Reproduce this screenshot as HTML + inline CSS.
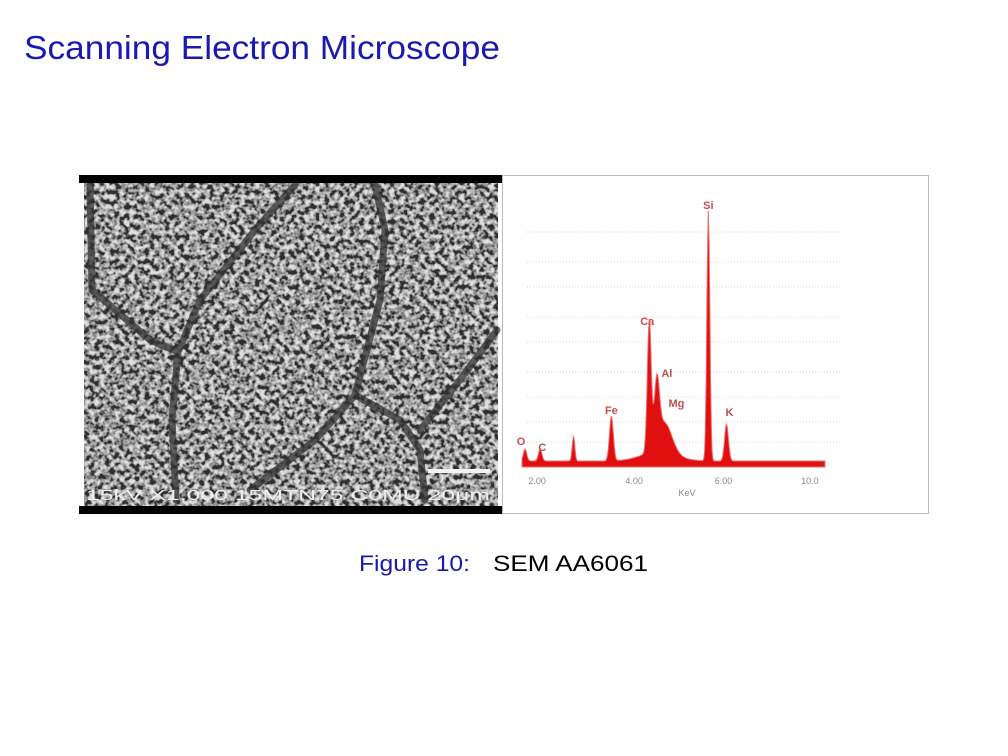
<!DOCTYPE html>
<html><head><meta charset="utf-8">
<style>
html,body{margin:0;padding:0;background:#fff;}
#page{position:relative;width:1008px;height:756px;overflow:hidden;font-family:"Liberation Sans",sans-serif;}
svg{position:absolute;left:0;top:0;}
</style></head>
<body>
<div id="page">
<svg width="1008" height="756" viewBox="0 0 1008 756">
  <defs>
    <filter id="semTex" x="0" y="0" width="100%" height="100%">
      <feTurbulence type="fractalNoise" baseFrequency="0.2" numOctaves="2" seed="7" result="n"/>
      <feColorMatrix type="matrix" in="n" values="0 0 0 0 0  0 0 0 0 0  0 0 0 0 0  3 0 0 0 -1.1" result="a"/>
      <feFlood flood-color="#e0e0e0" result="w"/>
      <feComposite in="w" in2="a" operator="in" result="wa"/>
      <feFlood flood-color="#2e2e2e" result="d"/>
      <feMerge><feMergeNode in="d"/><feMergeNode in="wa"/></feMerge>
    </filter>
  </defs>
  <text x="24" y="59" font-size="33" fill="#1a1ab0" textLength="476" lengthAdjust="spacingAndGlyphs">Scanning Electron Microscope</text>

  <g>
    <rect x="84" y="183" width="414" height="323" fill="#888" filter="url(#semTex)"/>
    <g fill="none" stroke="#333" stroke-width="7" stroke-linecap="round" opacity="0.75">
      <path d="M90 185 L92 290 L150 340 L178 352 L200 300 L255 230 L295 185"/>
      <path d="M178 352 L172 420 L176 500"/>
      <path d="M375 185 L385 230 L380 300 L355 395 L315 440 L250 490"/>
      <path d="M355 395 L400 420 L420 450 L425 500"/>
      <path d="M420 430 L460 380 L497 330"/>
    </g>
    <rect x="428" y="469" width="62" height="4" fill="#f2f2f2"/>
    <text x="86" y="500" font-size="15" fill="#eee" textLength="404" lengthAdjust="spacingAndGlyphs">15kV X1,000 15MTN75 C0MU 20μm</text>
    <rect x="79" y="175" width="423" height="8" fill="#000"/>
    <rect x="79" y="506" width="423" height="8" fill="#000"/>
  </g>

  <g>
    <rect x="502.5" y="175.5" width="426" height="338" fill="#fff" stroke="#777" stroke-width="1" stroke-dasharray="1,1"/>
    <g id="grid" stroke="#d4d4d4" stroke-width="1" stroke-dasharray="1,2"></g>
    <g id="spec"></g>
    <g id="labels" font-size="11" fill="#c05050" font-weight="bold"></g>
    <g id="ticks" font-size="9" fill="#888"></g>
    <text x="687" y="496" font-size="9" fill="#888" text-anchor="middle">KeV</text>
  </g>

  <text x="359" y="571" font-size="22" fill="#1a1ab0" textLength="111" lengthAdjust="spacingAndGlyphs">Figure 10:</text>
  <text x="493" y="571" font-size="22" fill="#000" textLength="155" lengthAdjust="spacingAndGlyphs">SEM AA6061</text>
</svg>
</div>
<script>
// Spectrum data (channel units 0..100 along axis, counts 0..260)
const peakNames = ["O", "C", "", "Fe", "Ca", "Al", "Mg", "Si", "K"];
const peakChannels = [1, 6, 17, 29.5, 42, 44.5, 47, 61.5, 67.5];
const peakCounts = [12, 12, 25, 45, 130, 60, 30, 250, 37];
const peakWidths = [0.8, 0.8, 0.6, 0.9, 0.9, 1.2, 3.5, 0.7, 0.9];
const tickLabels = ["2.00", "4.00", "6.00", "10.0"];
const tickChannels = [5, 37, 66.5, 95];
const gridCounts = [25, 45, 70, 95, 125, 150, 180, 205, 235];

const X0 = 522, X1 = 825, Y0 = 467, HP = 260;
const xs = c => X0 + (c / 100) * (X1 - X0);
const ys = v => Y0 - v;
const NS = "http://www.w3.org/2000/svg";

const grid = document.getElementById('grid');
gridCounts.forEach(g => {
  const l = document.createElementNS(NS, 'line');
  l.setAttribute('x1', X0 + 5); l.setAttribute('x2', X1 + 15);
  l.setAttribute('y1', ys(g)); l.setAttribute('y2', ys(g));
  
  
  grid.appendChild(l);
});

const baseline = 6;
let pts = [];
for (let c = 0; c <= 100; c += 0.25) {
  let v = baseline + (c > 30 && c < 60 ? 9 * Math.exp(-Math.pow((c - 45) / 8, 2)) : 0);
  for (let i = 0; i < peakChannels.length; i++) {
    v += peakCounts[i] * Math.exp(-Math.pow((c - peakChannels[i]) / peakWidths[i], 2));
  }
  pts.push(xs(c).toFixed(1) + ',' + ys(v).toFixed(1));
}
const spec = document.getElementById('spec');
const poly = document.createElementNS(NS, 'polygon');
poly.setAttribute('points', xs(0) + ',' + Y0 + ' ' + pts.join(' ') + ' ' + xs(100) + ',' + Y0);
poly.setAttribute('fill', '#e01010');
poly.setAttribute('stroke', '#f07070');
poly.setAttribute('stroke-width', '1');


spec.appendChild(poly);

const labels = document.getElementById('labels');
peakNames.forEach((n, i) => {
  if (!n) return;
  const t = document.createElementNS(NS, 'text');
  let dx = 0, dy = -8;
  if (n === 'O') { dx = -4; dy = -10; }
  if (n === 'C') { dx = 2; dy = -4; }
  if (n === 'Ca') { dx = -2; dy = -12; }
  if (n === 'Al') { dx = 10; dy = -30; }
  if (n === 'Mg') { dx = 12; dy = -30; }
  if (n === 'K') { dx = 3; dy = -14; }
  t.setAttribute('x', xs(peakChannels[i]) + dx);
  t.setAttribute('y', ys(peakCounts[i]) + dy);
  t.setAttribute('text-anchor', 'middle');
  t.textContent = n;
  
  
  labels.appendChild(t);
});

const ticks = document.getElementById('ticks');
tickLabels.forEach((lab, i) => {
  const t = document.createElementNS(NS, 'text');
  t.setAttribute('x', xs(tickChannels[i]));
  t.setAttribute('y', Y0 + 17);
  t.setAttribute('text-anchor', 'middle');
  t.textContent = lab;
  
  
  ticks.appendChild(t);
});
</script>
</body></html>
